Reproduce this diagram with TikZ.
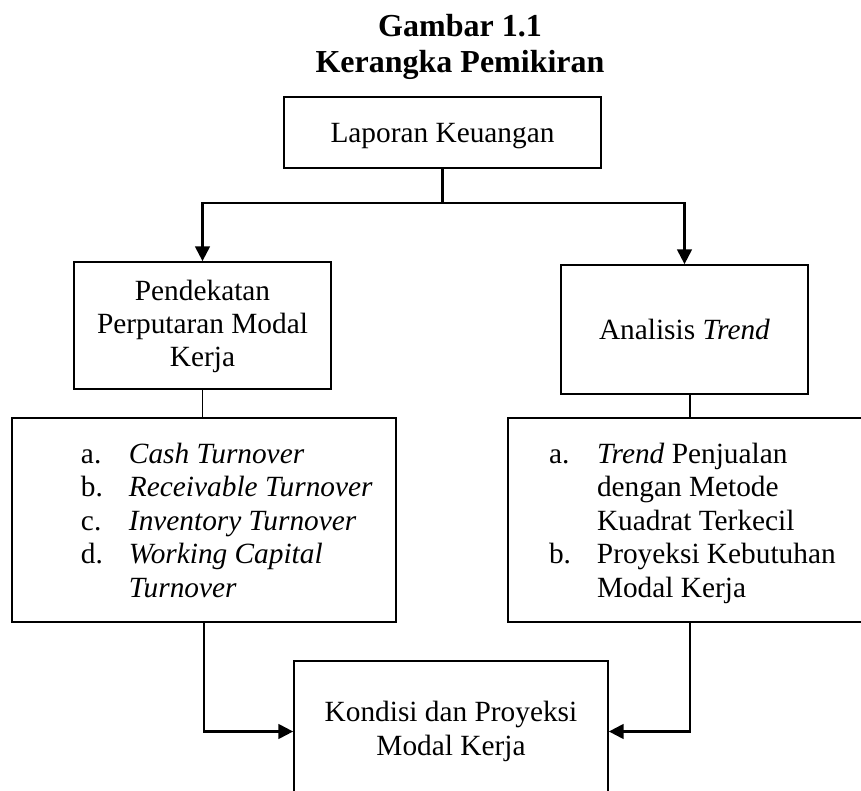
\documentclass[tikz,border=0pt]{standalone}
\usepackage{fontspec}
\setmainfont{Liberation Serif}
\usetikzlibrary{arrows.meta}
\tikzset{
  box/.style={draw, line width=1.3pt, inner sep=0pt, text depth=0pt},
  conn/.style={line width=1.6pt},
  thin conn/.style={line width=1.1pt},
  arr/.style={conn, -{Triangle[length=11pt,width=11pt]}},
  body/.style={font=\fontsize{22pt}{25.1pt}\selectfont},
  head/.style={font=\fontsize{24pt}{27pt}\selectfont\bfseries, anchor=base},
}
\newcommand{\itemlab}[1]{\makebox[36pt][l]{#1}}
\begin{document}
\begin{tikzpicture}[x=0.75pt,y=-0.75pt]
  \useasboundingbox (0,0) rectangle (861,791);
  \clip (0,0) rectangle (861,791);
  % Heading
  \node[head] (title) at (460,37) {Gambar 1.1};
  \node[head] (subtitle) at (460,73) {Kerangka Pemikiran};
  % Boxes (text height puts the last baseline)
  \node[box, body, minimum width=237.75pt, minimum height=53.25pt, text height=15.75pt] (lapkeu) at (442.5,132.5)
    {Laporan Keuangan};
  \node[box, body, minimum width=192.75pt, minimum height=95.25pt, text height=62.25pt] (pendekatan) at (202.5,325.5)
    {\begin{tabular}[b]{@{}c@{}}Pendekatan\\Perputaran Modal\\Kerja\end{tabular}};
  \node[box, body, minimum width=185.25pt, minimum height=96.75pt, text height=15.75pt] (analisis) at (684.5,329.5)
    {Analisis \textit{Trend}};
  % Lists
  \node[box, body, minimum height=153pt, text height=115.5pt] (rasio) at (204,520)
    {\makebox[288pt][l]{\hspace*{51.75pt}\begin{tabular}[b]{@{}l@{}l@{}}
      \itemlab{a.} & \textit{Cash Turnover}\\
      \itemlab{b.} & \textit{Receivable Turnover}\\
      \itemlab{c.} & \textit{Inventory Turnover}\\
      \itemlab{d.} & \textit{Working Capital}\\
                   & \textit{Turnover}
    \end{tabular}}};
  \node[box, body, minimum height=153pt, text height=115.5pt] (trend) at (690,520)
    {\makebox[273pt][l]{\hspace*{30.75pt}\begin{tabular}[b]{@{}l@{}l@{}}
      \itemlab{a.} & \textit{Trend} Penjualan\\
                   & dengan Metode\\
                   & Kuadrat Terkecil\\
      \itemlab{b.} & Proyeksi Kebutuhan\\
                   & Modal Kerja
    \end{tabular}}};
  \node[box, body, minimum width=235.5pt, minimum height=105.75pt, text height=35.25pt] (kondisi) at (451,731.5)
    {\begin{tabular}[b]{@{}c@{}}Kondisi dan Proyeksi\\Modal Kerja\end{tabular}};
  % Connectors
  \coordinate (fork) at (lapkeu.south |- 0,203);
  \draw[conn] (lapkeu.south) -- (fork);
  \draw[arr] (fork) -| (pendekatan.north);
  \draw[arr] (fork) -| (analisis.north);
  \draw[thin conn] (pendekatan.south) -- (pendekatan.south |- rasio.north);
  \draw[thin conn] (analisis.south -| trend.north) -- (trend.north);
  \draw[arr] (rasio.south) |- (kondisi.west);
  \draw[arr] (trend.south) |- (kondisi.east);
\end{tikzpicture}
\end{document}
